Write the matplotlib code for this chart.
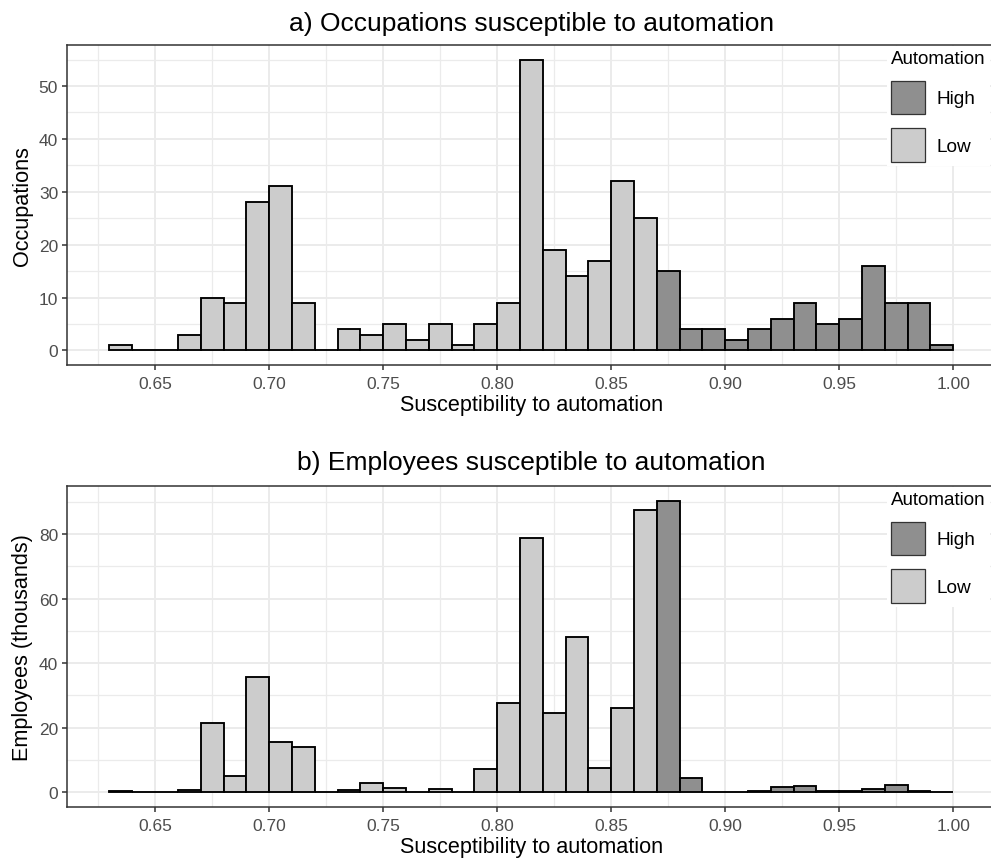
import matplotlib
matplotlib.use("Agg")
import matplotlib.pyplot as plt
from matplotlib.patches import Patch
from matplotlib.ticker import MultipleLocator, FormatStrFormatter

plt.rcParams['font.family'] = ['Liberation Sans', 'DejaVu Sans']

# left edge of every 0.01-wide bin of susceptibility
bin_starts = [0.63, 0.64, 0.65, 0.66, 0.67, 0.68, 0.69, 0.70, 0.71, 0.72,
              0.73, 0.74, 0.75, 0.76, 0.77, 0.78, 0.79, 0.80, 0.81, 0.82,
              0.83, 0.84, 0.85, 0.86, 0.87, 0.88, 0.89, 0.90, 0.91, 0.92,
              0.93, 0.94, 0.95, 0.96, 0.97, 0.98, 0.99]
bin_width = 0.01
high_from = 0.87  # bins from here on are "High" automation

occupations = [1, 0, 0, 3, 10, 9, 28, 31, 9, 0,
               4, 3, 5, 2, 5, 1, 5, 9, 55, 19,
               14, 17, 32, 25, 15, 4, 4, 2, 4, 6,
               9, 5, 6, 16, 9, 9, 1]

employees = [0.5, 0, 0, 0.9, 21.5, 5.0, 35.6, 15.7, 14.2, 0,
             0.6, 3.0, 1.4, 0.1, 1.0, 0.1, 7.3, 27.7, 78.8, 24.5,
             48.2, 7.5, 26.1, 87.3, 90.3, 4.6, 0.1, 0.1, 0.3, 1.6,
             2.0, 0.4, 0.3, 1.2, 2.2, 0.4, 0.1]

titles = ['a) Occupations susceptible to automation',
          'b) Employees susceptible to automation']
ylabels = ['Occupations', 'Employees (thousands)']
y_steps = [10, 20]

col_high = '#8f8f8f'
col_low = '#cccccc'
grid_col = '#ebebeb'
dark = '#333333'

W, H = 991, 862
fig = plt.figure(figsize=(W / 100, H / 100), dpi=100)

# pixel boxes of the two panels (left, top, right, bottom)
boxes = [(67.3, 46, 995.4, 366), (67.3, 487, 995.4, 808)]
title_pads = [11, 12]


def panel(box, values, title, ylabel, ystep, tpad):
    l, t, r, b = box
    ax = fig.add_axes([l / W, 1 - b / H, (r - l) / W, (b - t) / H])
    colors = [col_high if x >= high_from - 1e-9 else col_low for x in bin_starts]
    ax.bar(bin_starts, values, width=bin_width, align='edge', color=colors,
           edgecolor='black', linewidth=1.35, zorder=3)

    lo, hi = bin_starts[0], bin_starts[-1] + bin_width
    ax.set_xlim(lo - 0.05 * (hi - lo), hi + 0.05 * (hi - lo))
    vmax = max(values)
    ax.set_ylim(-0.05 * vmax, 1.05 * vmax)

    ax.xaxis.set_major_locator(MultipleLocator(0.05))
    ax.xaxis.set_minor_locator(MultipleLocator(0.025))
    ax.xaxis.set_major_formatter(FormatStrFormatter('%.2f'))
    ax.yaxis.set_major_locator(MultipleLocator(ystep))
    ax.yaxis.set_minor_locator(MultipleLocator(ystep / 2))

    ax.grid(which='major', color=grid_col, linewidth=1.4, zorder=0)
    ax.grid(which='minor', color=grid_col, linewidth=0.9, zorder=0)
    ax.set_axisbelow(True)
    for s in ax.spines.values():
        s.set_color(dark)
        s.set_linewidth(1.1)

    ax.tick_params(which='major', length=3.6, width=1.1, color=dark,
                   labelsize=12.5, labelcolor='#4d4d4d')
    ax.tick_params(axis='x', which='major', pad=4.5)
    ax.tick_params(axis='y', which='major', pad=3)
    ax.tick_params(which='minor', length=0)

    ax.set_xlabel('Susceptibility to automation', fontsize=15.6, labelpad=2)
    ax.set_ylabel(ylabel, fontsize=15.6, labelpad=4)
    ax.set_title(title, fontsize=19, pad=tpad)

    handles = [Patch(facecolor=col_high, edgecolor='#333333', linewidth=0.9),
               Patch(facecolor=col_low, edgecolor='#333333', linewidth=0.9)]
    leg = ax.legend(handles, ['High', 'Low'], title='Automation',
                    loc='upper left', bbox_to_anchor=(887 / W, 1 - (t + 1) / H),
                    bbox_transform=fig.transFigure, fontsize=13.7,
                    title_fontsize=13.5, alignment='left', frameon=True,
                    fancybox=False, borderpad=0.22, handlelength=1.79,
                    handleheight=2.37, labelspacing=0.7, handletextpad=0.58,
                    borderaxespad=0)
    leg.get_frame().set_facecolor('white')
    leg.get_frame().set_edgecolor('none')
    leg.get_frame().set_alpha(1)
    return ax


for i, vals in enumerate([occupations, employees]):
    panel(boxes[i], vals, titles[i], ylabels[i], y_steps[i], title_pads[i])

fig.savefig('out.png', dpi=100)
